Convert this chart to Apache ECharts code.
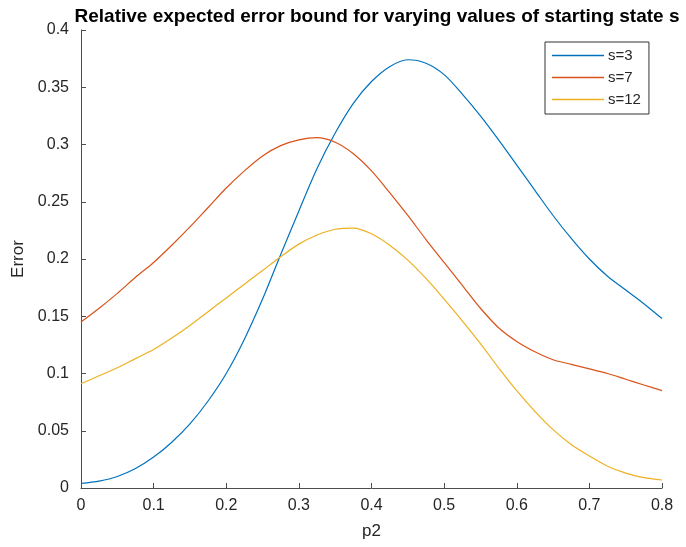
<!DOCTYPE html>
<html>
<head>
<meta charset="utf-8">
<script src="https://cdn.jsdelivr.net/npm/echarts@6/dist/echarts.min.js"></script>
<style>html,body{margin:0;padding:0;background:#fff}#c{width:686px;height:547px}</style>
</head>
<body>
<div id="c"></div>
<script>
var p2 = [0, 0.025, 0.05, 0.075, 0.1, 0.125, 0.15, 0.175, 0.2, 0.225, 0.25, 0.275, 0.3, 0.325, 0.35, 0.375, 0.4, 0.425, 0.45, 0.475, 0.5, 0.525, 0.55, 0.575, 0.6, 0.625, 0.65, 0.675, 0.7, 0.725, 0.75, 0.775, 0.8];
var s3 = [0.004, 0.006, 0.010, 0.017, 0.027, 0.040, 0.056, 0.076, 0.100, 0.130, 0.165, 0.204, 0.242, 0.279, 0.310, 0.336, 0.355, 0.368, 0.374, 0.371, 0.361, 0.344, 0.325, 0.304, 0.282, 0.260, 0.238, 0.218, 0.200, 0.185, 0.173, 0.161, 0.148];
var s7 = [0.145, 0.157, 0.170, 0.184, 0.197, 0.212, 0.228, 0.245, 0.262, 0.277, 0.290, 0.299, 0.304, 0.306, 0.302, 0.292, 0.277, 0.258, 0.238, 0.217, 0.197, 0.177, 0.157, 0.140, 0.128, 0.119, 0.112, 0.108, 0.104, 0.100, 0.095, 0.090, 0.085];
var s12 = [0.091, 0.098, 0.105, 0.113, 0.121, 0.131, 0.142, 0.154, 0.166, 0.178, 0.190, 0.202, 0.213, 0.221, 0.226, 0.227, 0.222, 0.212, 0.199, 0.183, 0.165, 0.146, 0.126, 0.105, 0.085, 0.067, 0.051, 0.038, 0.028, 0.019, 0.013, 0.009, 0.007];
var seriesNames = ['s=3', 's=7', 's=12'];
var seriesColors = ['#0072BD', '#D95319', '#EDB120'];

function pairs(ys) { return p2.map(function (x, i) { return [x, ys[i]]; }); }
var allY = [s3, s7, s12];

var chart = echarts.init(document.getElementById('c'), null, {renderer: 'canvas'});
var axisCol = '#4d4d4d';
var txtCol = '#262626';
chart.setOption({
  animation: false,
  backgroundColor: '#fff',
  title: {
    text: 'Relative expected error bound for varying values of starting state s',
    left: 372, top: 2, textAlign: 'center',
    textStyle: {fontFamily: 'Liberation Sans, Arial, sans-serif', fontSize: 19, fontWeight: 'bold', color: '#000'}
  },
  legend: {
    orient: 'vertical', left: 545, top: 42,
    padding: [6, 8, 7, 7], itemGap: 7,
    itemWidth: 52, itemHeight: 1.5, icon: 'rect',
    borderColor: '#333', borderWidth: 1,
    backgroundColor: '#fff',
    textStyle: {fontFamily: 'Liberation Sans, Arial, sans-serif', fontSize: 15, color: txtCol, padding: [0, 0, 0, -1]},
    data: seriesNames
  },
  grid: {left: 81, right: 24, top: 30, bottom: 59, containLabel: false},
  xAxis: {
    type: 'value', min: 0, max: 0.8, interval: 0.1,
    name: 'p2', nameLocation: 'middle', nameGap: 35,
    nameTextStyle: {fontFamily: 'Liberation Sans, Arial, sans-serif', fontSize: 17, color: txtCol},
    axisLine: {show: true, lineStyle: {color: axisCol, width: 1}},
    axisTick: {show: true, inside: true, length: 5, lineStyle: {color: axisCol}},
    axisLabel: {margin: 10, fontFamily: 'Liberation Sans, Arial, sans-serif', fontSize: 16, color: txtCol},
    splitLine: {show: false}
  },
  yAxis: {
    type: 'value', min: 0, max: 0.4, interval: 0.05,
    name: 'Error', nameLocation: 'middle', nameGap: 50, nameRotate: 90,
    nameTextStyle: {fontFamily: 'Liberation Sans, Arial, sans-serif', fontSize: 17, color: txtCol},
    axisLine: {show: true, lineStyle: {color: axisCol, width: 1}},
    axisTick: {show: true, inside: true, length: 5, lineStyle: {color: axisCol}},
    axisLabel: {margin: 12, fontFamily: 'Liberation Sans, Arial, sans-serif', fontSize: 16, color: txtCol},
    splitLine: {show: false}
  },
  series: seriesNames.map(function (n, i) {
    return {
      name: n, type: 'line', data: pairs(allY[i]),
      showSymbol: false, smooth: 0.3,
      color: seriesColors[i],
      lineStyle: {width: 1.2, color: seriesColors[i]}
    };
  })
});
</script>
</body>
</html>
